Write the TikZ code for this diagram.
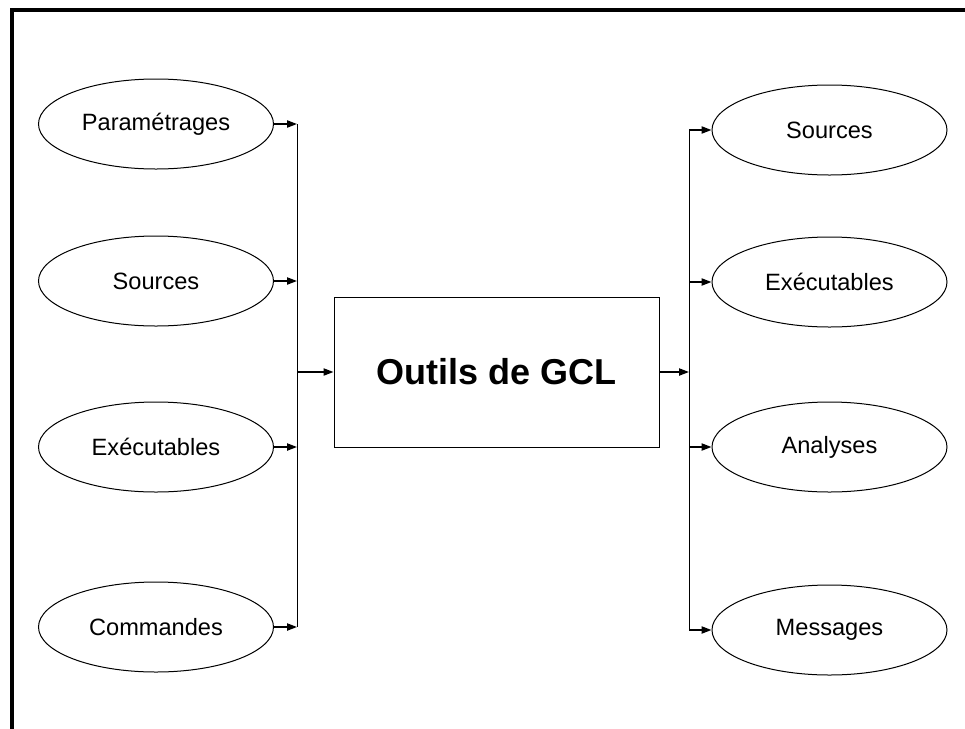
\documentclass[tikz,border=0pt]{standalone}
\usepackage{fontspec}
\setmainfont{Liberation Sans}
\usetikzlibrary{shapes.geometric,arrows.meta}
\begin{document}
\begin{tikzpicture}[x=0.5pt,y=-0.5pt,
  item/.style={draw,line width=0.5pt,ellipse,minimum width=117.5pt,minimum height=45pt,inner sep=0pt,
    font=\fontsize{11.8}{14}\selectfont},
  tool/.style={draw,line width=0.5pt,rectangle,minimum width=162.5pt,minimum height=75pt,inner sep=0pt,
    font=\fontsize{18}{22}\selectfont\bfseries},
  bus/.style={line width=0.5pt},
  feed/.style={line width=0.8pt,-{Triangle[length=5pt,width=3.6pt]},shorten >=0pt}
]
\useasboundingbox (0,0) rectangle (965,729);
% frame
\draw[line width=2pt] (12,729) -- (12,10) -- (965,10);

% central tool
\node[tool] (gcl) at (496.5,372) {Outils de GCL};

% inputs
\node[item] (in1) at (156,124) {Paramétrages};
\node[item] (in2) at (156,281) {Sources};
\node[item] (in3) at (156,447) {Exécutables};
\node[item] (in4) at (156,627) {Commandes};

% outputs
\node[item] (out1) at (829.5,130) {Sources};
\node[item] (out2) at (829.5,282) {Exécutables};
\node[item] (out3) at (829.5,447) {Analyses};
\node[item] (out4) at (829.5,630) {Messages};

% input bus
\coordinate (ib1) at (297,124);
\coordinate (ib2) at (297,281);
\coordinate (ib3) at (297,447);
\coordinate (ib4) at (297,627);
\coordinate (ibm) at (297,372);
\draw[bus] (ib1) -- (ib4);
\foreach \i in {1,2,3,4} \draw[feed] (in\i.east) -- (ib\i);
\draw[feed] (ibm) -- (gcl.west);

% output bus
\coordinate (ob1) at (689,130);
\coordinate (ob2) at (689,282);
\coordinate (ob3) at (689,447);
\coordinate (ob4) at (689,630);
\coordinate (obm) at (689,372);
\draw[bus] (ob1) -- (ob4);
\draw[feed] (gcl.east) -- (obm);
\foreach \i in {1,2,3,4} \draw[feed] (ob\i) -- (out\i.west);
\end{tikzpicture}
\end{document}
